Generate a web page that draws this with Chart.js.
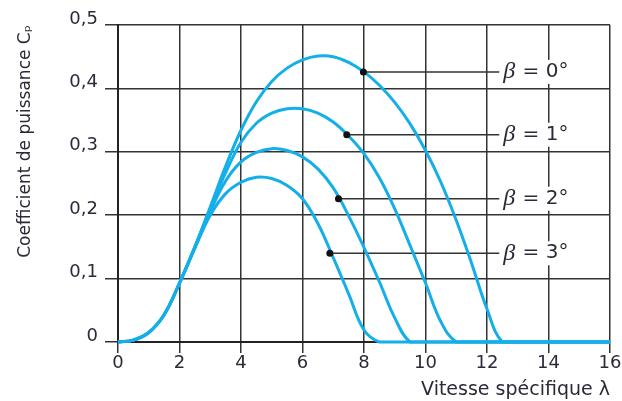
<!DOCTYPE html>
<html>
<head>
<meta charset="utf-8">
<script src="https://cdn.jsdelivr.net/npm/chart.js@4.4.1/dist/chart.umd.min.js"></script>
<style>
html,body{margin:0;padding:0;background:#ffffff;}
#c{display:block;}
</style>
</head>
<body>
<canvas id="c" width="622" height="401"></canvas>
<script>
// ---- data ----
const lambda = [0,0.5,1,1.5,2,2.5,3,3.5,4,4.5,5,5.5,6,6.5,7,7.5,8,8.5,9,9.5,10,10.5,11,11.5,12,12.5,13,13.5,14,14.5,15,15.5,16];
const cpBeta0 = [0,0.003,0.015,0.043,0.093,0.150,0.213,0.277,0.334,0.379,0.411,0.432,0.445,0.451,0.450,0.441,0.426,0.405,0.378,0.344,0.302,0.252,0.192,0.124,0.052,0,0,0,0,0,0,0,0];
const cpBeta1 = [0,0.003,0.015,0.043,0.093,0.150,0.210,0.267,0.315,0.345,0.361,0.368,0.368,0.361,0.347,0.325,0.297,0.259,0.210,0.152,0.093,0.032,0,0,0,0,0,0,0,0,0,0,0];
const cpBeta2 = [0,0.003,0.015,0.043,0.093,0.149,0.206,0.254,0.284,0.299,0.305,0.302,0.292,0.273,0.243,0.199,0.149,0.095,0.038,0,0,0,0,0,0,0,0,0,0,0,0,0,0];
const cpBeta3 = [0,0.003,0.015,0.043,0.093,0.148,0.200,0.234,0.252,0.260,0.258,0.247,0.226,0.187,0.133,0.076,0.019,0,0,0,0,0,0,0,0,0,0,0,0,0,0,0,0];
const betaLabels = ['0','1','2','3'];
const markerLambda = [7.98,7.44,7.17,6.89];
const markerCp = [0.426,0.327,0.226,0.140];
const leaderEndLambda = 12.4;
const xTickLabels = ['0','2','4','6','8','10','12','14','16'];
const yTickLabels = ['0','0,1','0,2','0,3','0,4','0,5'];
const xTitle = 'Vitesse spécifique λ';
const yTitle = 'Coefficient de puissance Cₚ';

// ---- build datasets ----
const curveColor = '#14aee8';
const series = [cpBeta0, cpBeta1, cpBeta2, cpBeta3];
const datasets = [];

// dots (on top)
datasets.push({
  type: 'scatter',
  data: markerLambda.map((l,i)=>({x:l, y:markerCp[i]})),
  pointRadius: 3.5,
  pointBackgroundColor: '#111',
  pointBorderWidth: 0,
  order: 0,
  clip: false
});
// curves
series.forEach(s=>{
  datasets.push({
    type: 'line',
    data: lambda.map((l,i)=>({x:l, y:s[i]})),
    borderColor: curveColor,
    borderWidth: 3,
    pointRadius: 0,
    fill: false,
    tension: 0.4,
    order: 1,
    clip: false
  });
});
// leader lines (below curves)
markerLambda.forEach((l,i)=>{
  datasets.push({
    type: 'line',
    data: [{x:l, y:markerCp[i]}, {x:leaderEndLambda, y:markerCp[i]}],
    borderColor: '#333',
    borderWidth: 1.5,
    pointRadius: 0,
    fill: false,
    order: 2,
    clip: false
  });
});

const labelPlugin = {
  id: 'betaLabels',
  afterDatasetsDraw(chart) {
    const {ctx, scales:{x, y}} = chart;
    ctx.save();
    ctx.textBaseline = 'middle';
    betaLabels.forEach((b,i)=>{
      const px = x.getPixelForValue(leaderEndLambda) + 4;
      const py = y.getPixelForValue(markerCp[i]);
      const fB = 'italic 24px "Liberation Serif"';
      const fR = '20px "DejaVu Sans"';
      ctx.font = fB;
      const wB = ctx.measureText('β').width;
      const rest = ' = ' + b + '°';
      ctx.font = fR;
      const wR = ctx.measureText(rest).width;
      ctx.fillStyle = '#ffffff';
      ctx.fillRect(px - 2, py - 12, wB + wR + 6, 24);
      ctx.fillStyle = '#2a2a38';
      ctx.font = fB;
      ctx.fillText('β', px, py);
      ctx.font = fR;
      ctx.fillText(rest, px + wB + 1, py);
    });
    ctx.restore();
  }
};

const gridColor = '#333333';
new Chart(document.getElementById('c'), {
  data: { datasets },
  plugins: [labelPlugin],
  options: {
    responsive: false,
    animation: false,
    events: [],
    layout: { padding: { left: 0, right: 12, top: 25, bottom: 0 } },
    plugins: { legend: { display: false }, tooltip: { enabled: false } },
    scales: {
      x: {
        type: 'linear',
        min: 0, max: 16,
        afterFit(scale) { scale.height = 59; },
        grid: { color: gridColor, lineWidth: 1.5, tickLength: 11, tickColor: gridColor, tickWidth: 1.5 },
        border: { color: '#222', width: 2 },
        ticks: {
          stepSize: 2, padding: 0, color: '#2a2a38', maxRotation: 0,
          font: { family: 'DejaVu Sans', size: 18 },
          callback: (v, i) => xTickLabels[i]
        },
        title: {
          display: true, text: xTitle, align: 'end', color: '#2a2a38',
          font: { family: 'DejaVu Sans', size: 19 }, padding: { top: 0, bottom: 0 }
        }
      },
      y: {
        type: 'linear',
        min: 0, max: 0.5,
        afterFit(scale) { scale.width = 118; },
        grid: { color: gridColor, lineWidth: 1.5, tickLength: 13, tickColor: gridColor, tickWidth: 1.5 },
        border: { color: '#222', width: 2 },
        ticks: {
          stepSize: 0.1, padding: 7, labelOffset: -6, color: '#2a2a38',
          font: { family: 'DejaVu Sans', size: 18 },
          callback: (v, i) => yTickLabels[i]
        },
        title: {
          display: true, text: yTitle, align: 'end', color: '#2a2a38',
          font: { family: 'DejaVu Sans', size: 17 }, padding: { top: 15, bottom: 0 }
        }
      }
    }
  }
});
</script>
</body>
</html>
